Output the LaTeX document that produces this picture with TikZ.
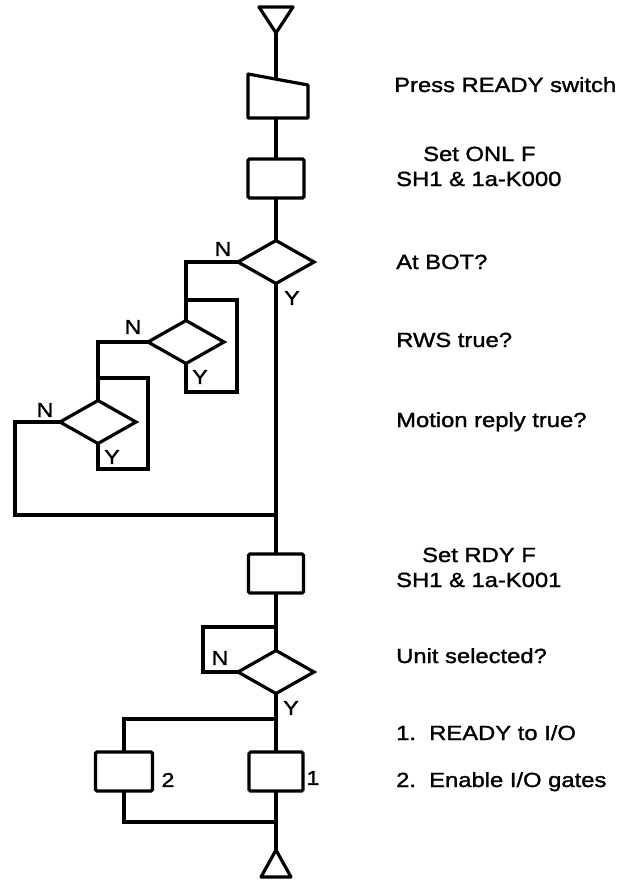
\documentclass[tikz,border=0pt]{standalone}
\usepackage{fontspec}
\setmainfont{Liberation Sans}[FakeStretch=1.16,FakeBold=1.4]
\usetikzlibrary{shapes.geometric}
\begin{document}
\begin{tikzpicture}[x=1pt,y=-1pt,
  flow/.style={line width=3.2pt},
  stepbox/.style={draw,rectangle,line width=3.2pt,inner sep=0pt,outer sep=0pt,rounded corners=1.5pt,minimum height=39pt},
  dec/.style={draw,diamond,line width=3.2pt,inner sep=0pt,outer sep=0pt,minimum width=76pt,minimum height=43pt},
  lbl/.style={font=\fontsize{20.5}{24}\selectfont,anchor=base west,inner sep=0pt},
  yn/.style={font=\fontsize{20}{22}\selectfont,inner sep=0pt}]
\useasboundingbox (0,0) rectangle (622,880);
% top terminal
\draw[flow,line join=round] (259,7) -- (293,7) -- (276,33) -- cycle;
\coordinate (tA) at (276,33);
% manual input (trapezoid)
\draw[flow,line join=round] (248,74) -- (308,85) -- (308,118) -- (248,118) -- cycle;
\coordinate (mTop) at (276,79.1);
\coordinate (mBot) at (276,118);
% boxes and decisions
\node[stepbox,minimum width=56pt] (r1) at (276,178.5) {};
\node[dec] (d1) at (276,262) {};
\node[dec] (d2) at (186,342) {};
\node[dec] (d3) at (98,422) {};
\node[stepbox,minimum width=55pt] (r2) at (276,573.5) {};
\node[dec] (d4) at (276,672) {};
\node[stepbox,minimum width=54pt] (r3) at (276,771.5) {};
\node[stepbox,minimum width=57pt] (r4) at (124,771.5) {};
% bottom terminal
\draw[flow,line join=round] (276,850) -- (291,877) -- (261,877) -- cycle;
\coordinate (tB) at (276,850);
% junction coordinates
\coordinate (j2) at (186,300);
\coordinate (j3) at (98,378);
\coordinate (jm) at (276,515);
\coordinate (j4) at (276,627);
\coordinate (j5) at (276,719);
\coordinate (j6) at (276,822);
% connectors
\draw[flow] (tA) -- (mTop);
\draw[flow] (mBot) -- (r1.north);
\draw[flow] (r1.south) -- (d1.north);
\draw[flow] (d1.west) -| (d2.north);
\draw[flow] (d2.south) -- (186,392) -- (237,392) -- (237,300) -- (j2);
\draw[flow] (d2.west) -| (d3.north);
\draw[flow] (d3.south) -- (98,469) -- (148,469) -- (148,378) -- (j3);
\draw[flow] (d3.west) -- (15,422) -- (15,515) -- (jm);
\draw[flow] (d1.south) -- (r2.north);
\draw[flow] (r2.south) -- (d4.north);
\draw[flow] (j4) -- (203,627) -- (203,672) -- (d4.west);
\draw[flow] (d4.south) -- (r3.north);
\draw[flow] (j5) -| (r4.north);
\draw[flow] (r4.south) |- (j6);
\draw[flow] (r3.south) -- (tB);
% N / Y labels
\node[yn] (n1) at (223,249) {N};
\node[yn] (y1) at (292,298) {Y};
\node[yn] (n2) at (133,327) {N};
\node[yn] (y2) at (200,377) {Y};
\node[yn] (n3) at (45,410) {N};
\node[yn] (y3) at (112,457) {Y};
\node[yn] (n4) at (220,658) {N};
\node[yn] (y4) at (291,708) {Y};
\node[yn] (k1) at (313,778) {1};
\node[yn] (k2) at (168,780) {2};
% descriptions
\node[lbl] (t1) at (394,92) {Press READY switch};
\node[lbl] (t2) at (423,161) {Set ONL F};
\node[lbl] (t3) at (396,186) {SH1 \& 1a-K000};
\node[lbl] (t4) at (396,269) {At BOT?};
\node[lbl] (t5) at (396,347) {RWS true?};
\node[lbl] (t6) at (396,427) {Motion reply true?};
\node[lbl] (t7) at (422,562) {Set RDY F};
\node[lbl] (t8) at (396,587) {SH1 \& 1a-K001};
\node[lbl] (t9) at (396,663) {Unit selected?};
\node[lbl] (t10) at (396,740) {1.\ \ READY to I/O};
\node[lbl] (t11) at (396,787) {2.\ \ Enable I/O gates};
\end{tikzpicture}
\end{document}
